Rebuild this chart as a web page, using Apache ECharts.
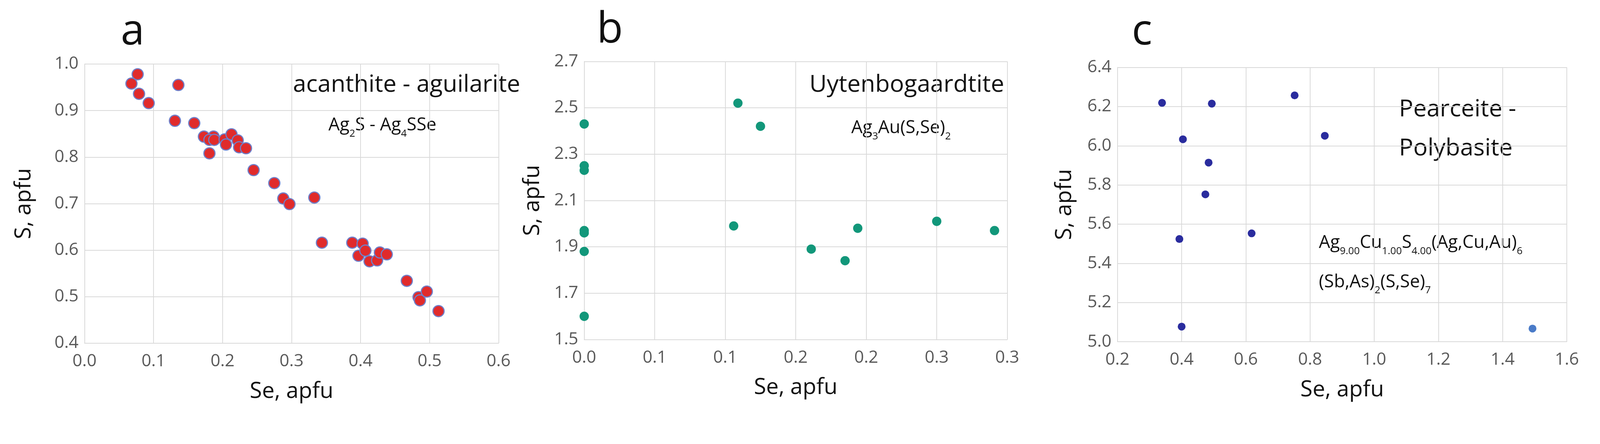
<!DOCTYPE html>
<html>
<head>
<meta charset="utf-8">
<script src="https://cdn.jsdelivr.net/npm/echarts@6/dist/echarts.min.js"></script>
<style>html,body{margin:0;padding:0;background:#fff;overflow:hidden}#chart{width:100vw;height:100vh}</style>
</head>
<body>
<div id="chart"></div>
<script>
// a: acanthite - aguilarite
const dataA = [
  [0.068, 0.958], [0.077, 0.978], [0.079, 0.936], [0.093, 0.916], [0.136, 0.955],
  [0.131, 0.878], [0.159, 0.873], [0.173, 0.844], [0.187, 0.844], [0.181, 0.837],
  [0.188, 0.837], [0.181, 0.808], [0.203, 0.838], [0.205, 0.827], [0.213, 0.849],
  [0.222, 0.836], [0.224, 0.821], [0.234, 0.819], [0.245, 0.772], [0.275, 0.744],
  [0.288, 0.711], [0.297, 0.699], [0.333, 0.713], [0.344, 0.616], [0.388, 0.616],
  [0.403, 0.614], [0.397, 0.588], [0.407, 0.599], [0.413, 0.576], [0.424, 0.578],
  [0.428, 0.595], [0.438, 0.591], [0.467, 0.534], [0.484, 0.499], [0.486, 0.492],
  [0.496, 0.511], [0.513, 0.469]
]
// b: Uytenbogaardtite
const dataB = [
  [0, 2.43], [0, 2.25], [0, 2.23], [0, 1.97], [0, 1.96], [0, 1.88], [0, 1.60],
  [0.109, 2.52], [0.125, 2.42], [0.106, 1.99], [0.161, 1.89], [0.185, 1.84],
  [0.194, 1.98], [0.250, 2.01], [0.291, 1.97]
]
// c: Pearceite - Polybasite (last point drawn lighter)
const dataC = [
  [0.339, 6.219], [0.494, 6.215], [0.752, 6.257], [0.404, 6.033], [0.846, 6.051],
  [0.484, 5.914], [0.474, 5.752], [0.393, 5.524], [0.618, 5.553], [0.400, 5.077],
  [1.493, 5.067]
]
const xLabelsB = ['0.0', '0.1', '0.1', '0.2', '0.2', '0.3', '0.3']

const myChart = echarts.init(document.getElementById('chart'))
const k = myChart.getWidth() / 4297
const px = v => v * k

const font = 'Open Sans'
const tickStyle = { color: '#595959', fontSize: px(46), fontFamily: font, margin: px(26), showMaxLabel: true, showMinLabel: true }
const gridLine = { show: true, lineStyle: { color: '#d9d9d9', width: px(2) } }
const axLine = { show: true, lineStyle: { color: '#d9d9d9', width: px(2) } }
const nameStyle = { fontSize: px(60), color: '#111', fontFamily: font }

function xAx(i, min, max, step, fmt) {
  return {
    gridIndex: i, type: 'value', min: min, max: max, interval: step,
    name: 'Se, apfu', nameLocation: 'middle', nameGap: px(100), nameTextStyle: nameStyle,
    axisLine: axLine, axisTick: { show: false }, splitLine: gridLine,
    axisLabel: Object.assign({ formatter: fmt }, tickStyle)
  }
}
function yAx(i, min, max, step, gap, fmt) {
  return {
    gridIndex: i, type: 'value', min: min, max: max, interval: step,
    name: 'S, apfu', nameLocation: 'middle', nameGap: px(gap), nameTextStyle: nameStyle,
    axisLine: axLine, axisTick: { show: false }, splitLine: gridLine,
    axisLabel: Object.assign({ formatter: fmt }, tickStyle, { margin: px(16) })
  }
}
const f1 = v => v.toFixed(1)

function txt(x, y, str, size, align, rich) {
  return {
    type: 'text', x: px(x), y: px(y),
    style: { text: str, fontSize: px(size), fontFamily: font, fill: '#111', align: align || 'left', verticalAlign: 'middle', rich: rich }
  }
}
const sub = s => ({ fontSize: px(s), fontFamily: font, fill: '#111', verticalAlign: 'bottom', padding: [0, 0, px(-12), 0] })
const r48 = { n: { fontSize: px(48), fontFamily: font, fill: '#111' }, s: sub(27) }

const option = {
  backgroundColor: '#fff',
  animation: false,
  grid: [
    { left: px(227), top: px(172), width: px(1112), height: px(750) },
    { left: px(1569), top: px(165), width: px(1136), height: px(747) },
    { left: px(3001), top: px(181), width: px(1207), height: px(737) }
  ],
  xAxis: [
    xAx(0, 0, 0.6, 0.1, f1),
    xAx(1, 0, 0.3, 0.05, v => xLabelsB[Math.round(v / 0.05)]),
    xAx(2, 0.2, 1.6, 0.2, f1)
  ],
  yAxis: [
    yAx(0, 0.4, 1.0, 0.1, 132, f1),
    yAx(1, 1.5, 2.7, 0.2, 108, f1),
    yAx(2, 5.0, 6.4, 0.2, 112, f1)
  ],
  series: [
    { type: 'scatter', xAxisIndex: 0, yAxisIndex: 0, data: dataA, symbolSize: px(30),
      itemStyle: { color: '#e02b2b', borderColor: '#6f7fc9', borderWidth: px(3), opacity: 1 } },
    { type: 'scatter', xAxisIndex: 1, yAxisIndex: 1, data: dataB, symbolSize: px(25),
      itemStyle: { color: '#12977a', opacity: 1 } },
    { type: 'scatter', xAxisIndex: 2, yAxisIndex: 2, data: dataC, symbolSize: px(21),
      itemStyle: { color: p => p.dataIndex === dataC.length - 1 ? '#4a7bc8' : '#2a2c9e', opacity: 1 } }
  ],
  graphic: [
    txt(356, 87, 'a', 115, 'center'),
    txt(1638, 82, 'b', 115, 'center'),
    txt(3067, 87, 'c', 115, 'center'),
    txt(1397, 228, 'acanthite - aguilarite', 64, 'right'),
    txt(1027, 337, '{n|Ag}{s|2}{n|S - Ag}{s|4}{n|SSe}', 48, 'center', r48),
    txt(2697, 228, 'Uytenbogaardtite', 64, 'right'),
    txt(2420, 344, '{n|Ag}{s|3}{n|Au(S,Se)}{s|2}', 48, 'center', r48),
    txt(3757, 294, 'Pearceite -', 64, 'left'),
    txt(3757, 399, 'Polybasite', 64, 'left'),
    txt(3542, 653, '{n|Ag}{s|9.00}{n|Cu}{s|1.00}{n|S}{s|4.00}{n|(Ag,Cu,Au)}{s|6}', 48, 'left', r48),
    txt(3542, 758, '{n|(Sb,As)}{s|2}{n|(S,Se)}{s|7}', 48, 'left', r48)
  ]
}
myChart.setOption(option)
</script>
</body>
</html>
